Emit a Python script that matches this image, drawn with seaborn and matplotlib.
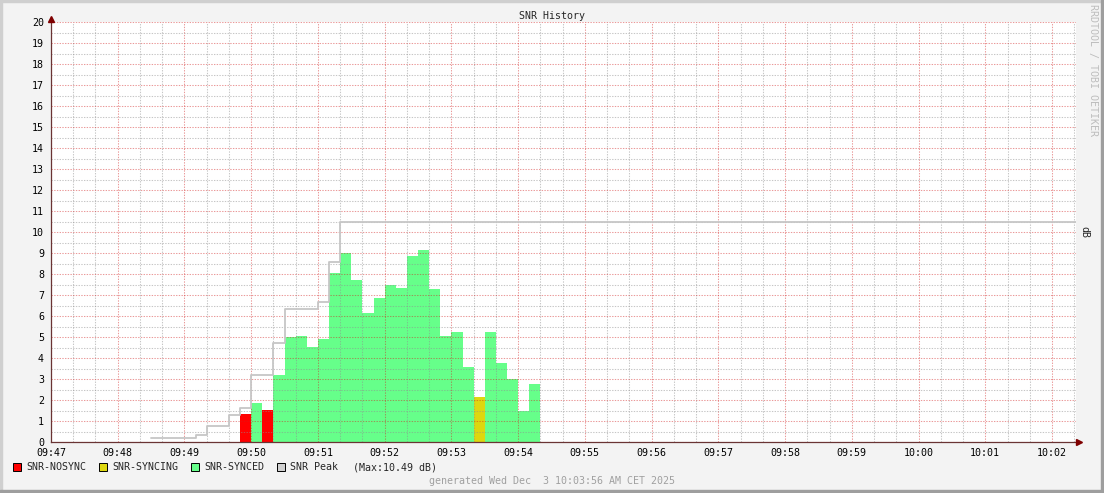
"""SNR history chart in rrdtool style."""
import pandas as pd
import matplotlib
matplotlib.use("Agg")
import matplotlib.pyplot as plt
import seaborn as sns
from matplotlib.patches import Rectangle

# ---- data -------------------------------------------------------------
START = "09:47:00"
STEP = 10  # seconds per sample

bar_first = "09:49:50"
bar_status = (["NOSYNC", "SYNCED", "NOSYNC"] + ["SYNCED"] * 18
              + ["SYNCING"] + ["SYNCED"] * 5)
bar_db = [1.33, 1.86, 1.52, 3.19, 5.00, 5.05, 4.54, 4.92, 8.06, 9.00,
          7.73, 6.14, 6.87, 7.48, 7.35, 8.87, 9.14, 7.29, 5.05, 5.24,
          3.57, 2.14, 5.24, 3.76, 3.00, 1.49, 2.76]

peak_time = ["09:48:30", "09:49:10", "09:49:20", "09:49:40", "09:49:50",
             "09:50:00", "09:50:20", "09:50:30", "09:51:00", "09:51:10",
             "09:51:20"]
peak_db = [0.19, 0.35, 0.75, 1.27, 1.60, 3.20, 4.70, 6.32, 6.67, 8.56, 10.49]

tick_labels = ["09:47", "09:48", "09:49", "09:50", "09:51", "09:52", "09:53",
               "09:54", "09:55", "09:56", "09:57", "09:58", "09:59", "10:00",
               "10:01", "10:02"]

colors = {"NOSYNC": "#FF0000", "SYNCING": "#DDD70F", "SYNCED": "#66FF8A"}
PEAK_COLOR = "#C6C6C6"

W, H = 1104, 493
L, R, T, B = 51, 1076, 22, 442
PX_PER_MIN = (1052 - 51) / 15.0


def secs(t):
    return (pd.Timestamp("2025-12-03 " + t) - pd.Timestamp("2025-12-03 " + START)).total_seconds()


sns.set_theme(style="white")
plt.rcParams["font.family"] = ["DejaVu Sans Mono"]
plt.rcParams["font.size"] = 7.2

fig = plt.figure(figsize=(W / 100, H / 100), dpi=100, facecolor="#F3F3F3")
ax = fig.add_axes([L / W, (H - B) / H, (R - L) / W, (B - T) / H])
ax.set_facecolor("white")

x_right = (R - L) / PX_PER_MIN * 60
ax.set_xlim(0, x_right)
ax.set_ylim(0, 20)

# bars
bars = pd.DataFrame({
    "x": [secs(bar_first) + STEP * i for i in range(len(bar_db))],
    "db": bar_db,
    "status": bar_status,
})
for status, grp in bars.groupby("status"):
    ax.bar(grp["x"], grp["db"], width=STEP, align="edge",
           color=colors[status], linewidth=0, zorder=2)

# peak line
peak = pd.DataFrame({"x": [secs(t) for t in peak_time] + [x_right],
                     "db": peak_db + [peak_db[-1]]})
sns.lineplot(data=peak, x="x", y="db", ax=ax, drawstyle="steps-post",
             color=PEAK_COLOR, linewidth=1.3, zorder=3, sort=False)

# grid
ax.set_xticks([60 * i for i in range(len(tick_labels))])
ax.set_xticklabels(tick_labels)
ax.set_xticks([20 * i for i in range(int(x_right // 20) + 1)], minor=True)
ax.set_yticks(range(0, 21))
ax.set_yticks([0.5 + i for i in range(20)], minor=True)
ax.grid(which="minor", color="#8F8F8F", alpha=0.5, linestyle=(0, (1.3, 1.3)),
        linewidth=0.75, zorder=4)
ax.grid(which="major", color="#D21E1E", alpha=0.45, linestyle=(0, (1.3, 1.3)),
        linewidth=0.75, zorder=4)
ax.set_axisbelow(False)
ax.set_xlabel("")
ax.set_ylabel("")
ax.tick_params(axis="both", which="both", length=0, colors="black", labelsize=7.2)
ax.tick_params(axis="x", pad=4)
ax.tick_params(axis="y", pad=5)

for side in ["top", "right"]:
    ax.spines[side].set_visible(False)
for side in ["left", "bottom"]:
    ax.spines[side].set_color("#6A3434")
    ax.spines[side].set_linewidth(0.9)
    ax.spines[side].set_zorder(5)

# axis arrows
ax.plot([1.0, 1.003], [0, 0], color="#6A3434", linewidth=0.9,
        transform=ax.transAxes, clip_on=False, zorder=5)
ax.plot([0, 0], [1.0, 1.008], color="#6A3434", linewidth=0.9,
        transform=ax.transAxes, clip_on=False, zorder=5)
ax.plot([1.0028], [0], marker=">", markersize=4.5, color="#7F0000",
        transform=ax.transAxes, clip_on=False, zorder=6)
ax.plot([0], [1.008], marker="^", markersize=4.5, color="#7F0000",
        transform=ax.transAxes, clip_on=False, zorder=6)


def fx(px):
    return px / W


def fy(py):
    return (H - py) / H


# frame shading
fig.patches.append(Rectangle((0, fy(2)), 1, 2 / H, transform=fig.transFigure,
                             color="#CFCFCF", zorder=0))
fig.patches.append(Rectangle((0, 0), 2 / W, 1, transform=fig.transFigure,
                             color="#CFCFCF", zorder=0))
fig.patches.append(Rectangle((0, 0), 1, 3 / H, transform=fig.transFigure,
                             color="#9E9E9E", zorder=0))
fig.patches.append(Rectangle((fx(W - 3), 0), 3 / W, 1, transform=fig.transFigure,
                             color="#9E9E9E", zorder=0))

# texts
fig.text(fx(552), fy(16), "SNR History", ha="center", va="center", fontsize=7.2)
fig.text(fx(1093), fy(4), "RRDTOOL / TOBI OETIKER", ha="center", va="top",
         rotation=270, color="#BDBDBD", fontsize=7.2)
fig.text(fx(1084), fy(232), "dB", ha="center", va="center", rotation=270,
         fontsize=7.2)
fig.text(fx(552), fy(481), "generated Wed Dec  3 10:03:56 AM CET 2025",
         ha="center", va="center", color="#A0A0A0", fontsize=7.2)

# legend
legend_items = [
    (13, colors["NOSYNC"], 26, "SNR-NOSYNC"),
    (99, colors["SYNCING"], 112, "SNR-SYNCING"),
    (191, colors["SYNCED"], 204, "SNR-SYNCED"),
    (277, "#D0D0D0", 290, "SNR Peak"),
]
for sx, col, tx, label in legend_items:
    fig.patches.append(Rectangle((fx(sx), fy(471)), 8 / W, 8 / H,
                                 transform=fig.transFigure, facecolor=col,
                                 edgecolor="black", linewidth=0.7, zorder=3))
    fig.text(fx(tx), fy(467), label, ha="left", va="center", fontsize=7.2)
fig.text(fx(353), fy(467), "(Max:%.2f dB)" % max(peak_db), ha="left",
         va="center", fontsize=7.2)

fig.savefig("out.png", dpi=100, facecolor=fig.get_facecolor())
plt.close(fig)
